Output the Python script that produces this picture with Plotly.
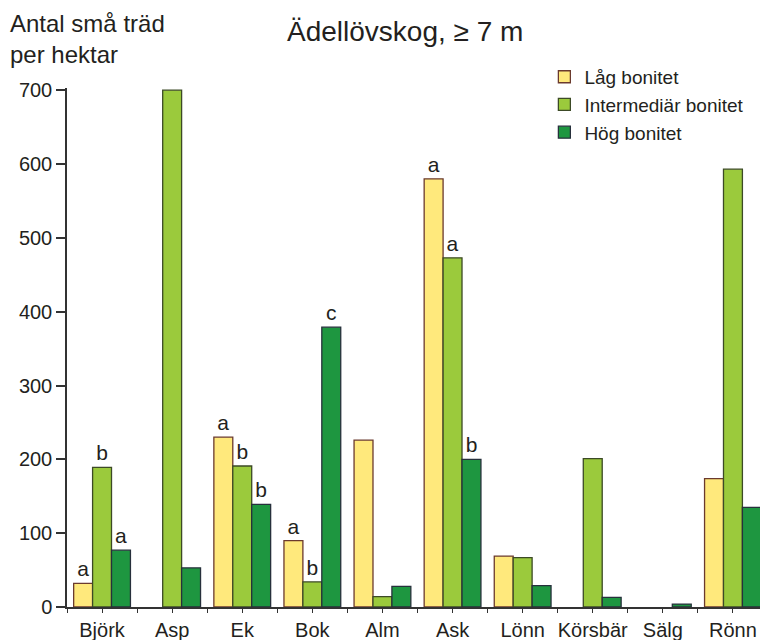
import plotly.graph_objects as go

categories = ["Björk", "Asp", "Ek", "Bok", "Alm", "Ask", "Lönn", "Körsbär", "Sälg", "Rönn"]
series_names = ["Låg bonitet", "Intermediär bonitet", "Hög bonitet"]
low_vals = [32, None, 230, 90, 226, 580, 69, None, None, 174]
mid_vals = [189, 700, 191, 34, 14, 473, 67, 201, None, 593]
high_vals = [77, 53, 139, 379, 28, 200, 29, 13, 4, 135]
low_letters = ["a", "", "a", "a", "", "a", "", "", "", ""]
mid_letters = ["b", "", "b", "b", "", "a", "", "", "", ""]
high_letters = ["a", "", "b", "c", "", "b", "", "", "", ""]
y_ticks = [0, 100, 200, 300, 400, 500, 600, 700]

fill_colors = ["#FFE97C", "#9BCA3C", "#1E9640"]
line_colors = ["#6B3A2E", "#3C4A26", "#27303C"]

FONT = "Liberation Sans, Arial, sans-serif"
TXT = "#231F20"

# page body has an 8px default margin: figure drawn at 760x632 so it fills 768x640
W, H = 760, 632
L, T, B, R = 59, 80, 33, 0
PH = H - T - B

x_pos = list(range(len(categories)))
fig = go.Figure()
for name, vals, letters, fc, lc in zip(series_names, [low_vals, mid_vals, high_vals],
                                       [low_letters, mid_letters, high_letters],
                                       fill_colors, line_colors):
    fig.add_trace(go.Bar(
        x=x_pos, y=vals, name=name,
        marker=dict(color=fc, line=dict(color=lc, width=1.3)),
        text=letters, textposition="outside", cliponaxis=False,
        textfont=dict(family=FONT, size=21, color=TXT),
    ))

fig.update_layout(
    width=W, height=H,
    paper_bgcolor="white", plot_bgcolor="white",
    margin=dict(l=L, r=R, t=T, b=B),
    barmode="group", bargap=0.19, bargroupgap=0,
    font=dict(family=FONT, color=TXT),
    showlegend=True,
    legend=dict(x=0.681, y=1.058, xanchor="left", yanchor="top",
                font=dict(family=FONT, size=19, color=TXT),
                tracegroupgap=0, itemwidth=30, bgcolor="rgba(0,0,0,0)"),
)
fig.update_xaxes(
    range=[-0.5, 9.5], tickmode="array", tickvals=x_pos, ticktext=categories,
    ticks="outside", ticklen=4, tickcolor="#333", tickwidth=1,
    minor=dict(tickmode="linear", tick0=-0.5, dtick=1, ticks="outside", ticklen=4, tickcolor="#333"),
    showline=True, linecolor="#333", linewidth=1.5, showgrid=False, zeroline=False,
    tickfont=dict(family=FONT, size=20, color=TXT), fixedrange=True,
)
fig.update_yaxes(
    range=[0, 703], tickmode="array", tickvals=y_ticks,
    ticks="outside", ticklen=9, tickcolor="#333", tickwidth=1.5,
    showline=True, linecolor="#333", linewidth=1.5, showgrid=False, zeroline=False,
    tickfont=dict(family=FONT, size=20, color=TXT),
)
fig.add_annotation(text="Ädellövskog, ≥ 7 m", xref="paper", yref="paper",
                   x=(397 - L) / (W - L - R), y=1 + (T - 24) / PH, xanchor="center", yanchor="middle",
                   showarrow=False, font=dict(family=FONT, size=28, color=TXT))
fig.add_annotation(text="Antal små träd<br>per hektar", xref="paper", yref="paper",
                   x=-(L - 0) / (W - L - R), y=1 + (T - 0) / PH, xanchor="left", yanchor="top", align="left",
                   showarrow=False, font=dict(family=FONT, size=24, color=TXT))

fig.write_html("out.html")
